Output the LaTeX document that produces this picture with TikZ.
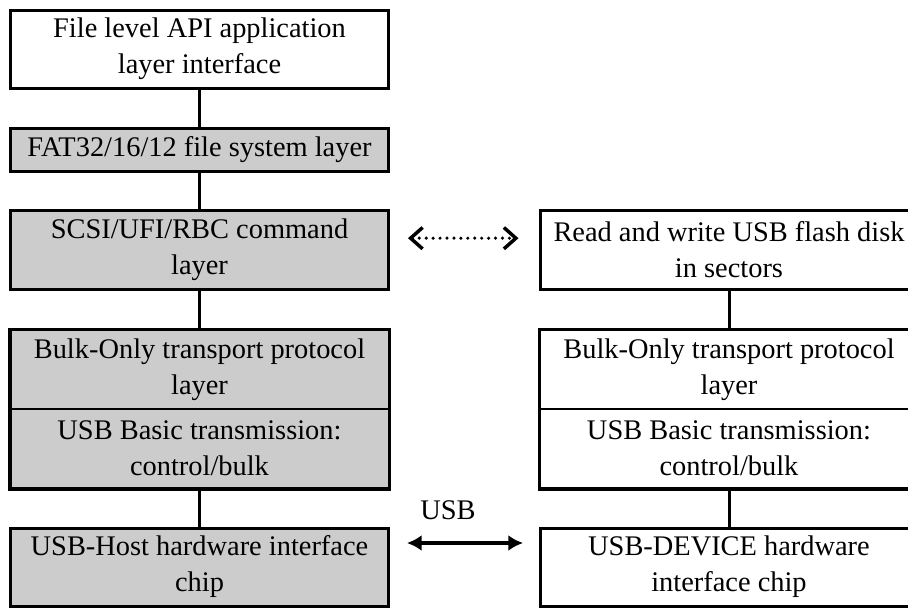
\documentclass[tikz,border=0pt]{standalone}
\usepackage{fontspec}
\setmainfont{Liberation Serif}
\usetikzlibrary{arrows.meta}
\definecolor{boxgray}{HTML}{CCCCCC}
\begin{document}
\begin{tikzpicture}[x=0.75pt,y=-0.75pt,
  box/.style={draw, line width=2.25pt, minimum width=283.5pt, align=center, inner sep=0pt, fill=white,
    font=\fontsize{21.3}{27}\selectfont},
  gbox/.style={box, fill=boxgray},
  link/.style={line width=2.25pt},
  lbl/.style={font=\fontsize{21.3}{27}\selectfont, inner sep=0pt}]
\useasboundingbox (0,0) rectangle (908,608);
\clip (0,0) rectangle (908,608);
% left column
\node[box, minimum height=58.5pt] (api) at (199.5,49) {File level API application\\layer interface};
\node[gbox, minimum height=32.25pt] (fat) at (199.5,149.5) {FAT32/16/12 file system layer};
\node[gbox, minimum height=59.25pt] (scsi) at (199.5,249.5) {SCSI/UFI/RBC command\\layer};
\node[gbox, line width=1.5pt, minimum height=59.25pt] (bulk) at (199.5,369.5) {Bulk-Only transport protocol\\layer};
\node[gbox, line width=1.5pt, minimum height=59.25pt] (basic) at (199.5,448.5) {USB Basic transmission:\\control/bulk};
\draw[line width=2.25pt] (bulk.north west) rectangle (basic.south east);
\node[gbox, minimum height=58.5pt] (host) at (199.5,567) {USB-Host hardware interface\\chip};
% right column
\node[box, minimum height=59.25pt] (rw) at (729,249.5) {Read and write USB flash disk\\in sectors};
\node[box, line width=1.5pt, minimum height=59.25pt] (rbulk) at (729,369.5) {Bulk-Only transport protocol\\layer};
\node[box, line width=1.5pt, minimum height=59.25pt] (rbasic) at (729,448.5) {USB Basic transmission:\\control/bulk};
\draw[line width=2.25pt] (rbulk.north west) rectangle (rbasic.south east);
\node[box, minimum height=58.5pt] (dev) at (729,567) {USB-DEVICE hardware\\interface chip};
% connectors
\draw[link] (api.south) -- (fat.north);
\draw[link] (fat.south) -- (scsi.north);
\draw[link] (scsi.south) -- (bulk.north);
\draw[link] (basic.south) -- (host.north);
\draw[link] (rw.south) -- (rbulk.north);
\draw[link] (rbasic.south) -- (dev.north);
% dotted double arrow
\draw[line width=2.6pt, line cap=round, dash pattern=on 0pt off 5.2pt,
  {Straight Barb[length=9pt,width=16pt,line width=2.6pt]}-{Straight Barb[length=9pt,width=16pt,line width=2.6pt]}]
  ([xshift=13.5pt,yshift=8.5pt]scsi.east) -- ([xshift=-15pt,yshift=8.5pt]rw.west);
% USB arrow
\draw[line width=2.4pt, {Latex[length=11pt,width=12pt]}-{Latex[length=11pt,width=12pt]}]
  ([xshift=12.75pt,yshift=18pt]host.east) -- ([xshift=-11.6pt,yshift=18pt]dev.west);
\node[lbl] (usb) at (448,510) {USB};
\end{tikzpicture}
\end{document}
